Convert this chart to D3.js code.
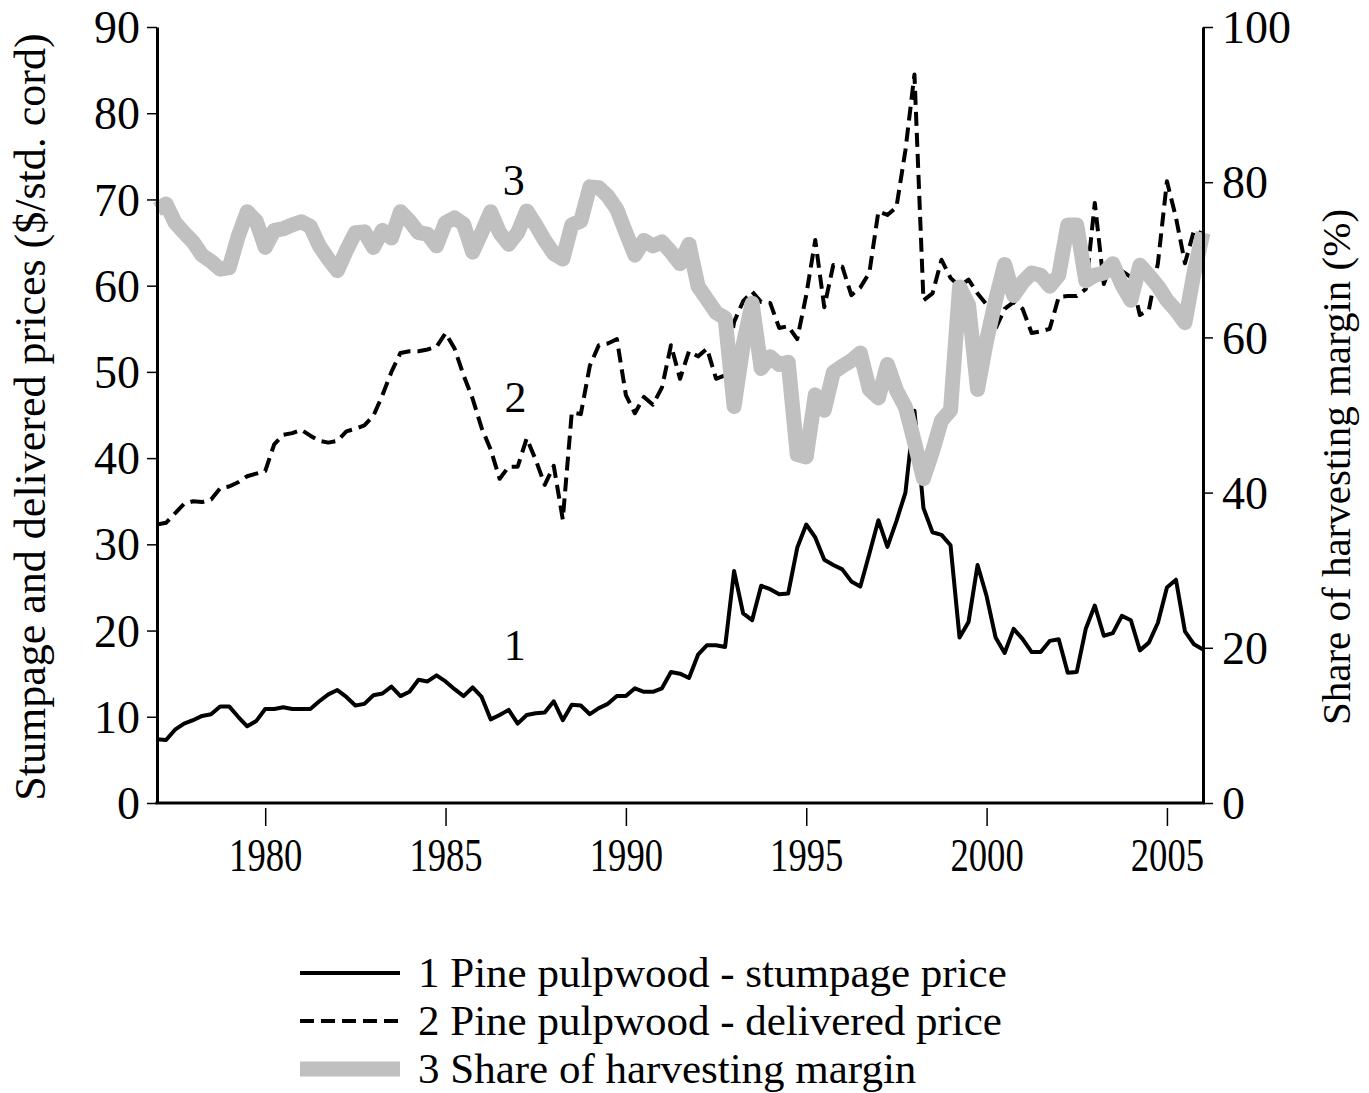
<!DOCTYPE html>
<html>
<head>
<meta charset="utf-8">
<script src="https://cdn.jsdelivr.net/npm/d3@7"></script>
<style>
    body { margin: 0; background: #fff; }
    svg text { font-family: "Liberation Serif", "Times New Roman", serif; fill: #000; }
</style>
</head>
<body>
<svg id="chart"></svg>
<script>

// quarterly series, 1977Q1 .. 2006Q1
const stumpage = [
    7.4, 7.3, 8.5, 9.2, 9.6, 10.1, 10.3, 11.2, 11.2, 10.0,
    8.9, 9.5, 10.9, 10.9, 11.1, 10.9, 10.9, 10.9, 11.8, 12.6,
    13.1, 12.3, 11.3, 11.5, 12.5, 12.7, 13.5, 12.4, 12.9, 14.3,
    14.1, 14.8, 14.1, 13.2, 12.4, 13.4, 12.3, 9.7, 10.2, 10.8,
    9.2, 10.2, 10.4, 10.5, 11.8, 9.6, 11.4, 11.3, 10.3, 11.0,
    11.5, 12.4, 12.4, 13.3, 12.9, 12.9, 13.3, 15.2, 15.0, 14.5,
    17.2, 18.3, 18.3, 18.1, 26.9, 22.0, 21.2, 25.2, 24.8, 24.2,
    24.3, 29.6, 32.3, 30.8, 28.2, 27.6, 27.1, 25.7, 25.1, 28.9,
    32.8, 29.7, 32.7, 36.0, 45.5, 34.2, 31.4, 31.1, 29.9, 19.2,
    21.0, 27.6, 24.0, 19.2, 17.4, 20.2, 19.0, 17.5, 17.5, 18.8,
    19.0, 15.1, 15.2, 20.2, 22.9, 19.4, 19.7, 21.7, 21.2, 17.7,
    18.6, 20.9, 25.0, 25.9, 19.9, 18.4, 17.8
];

const delivered = [
    32.3, 32.5, 33.6, 34.7, 35.0, 34.9, 35.2, 36.5, 36.7, 37.2,
    37.9, 38.2, 38.5, 41.6, 42.7, 42.9, 43.3, 42.6, 42.0, 41.8,
    42.0, 43.1, 43.4, 43.8, 44.9, 47.3, 50.0, 52.2, 52.4, 52.4,
    52.6, 52.9, 54.5, 52.7, 49.6, 46.9, 43.5, 41.0, 37.6, 39.0,
    39.0, 42.3, 39.8, 36.9, 39.1, 32.9, 45.3, 45.1, 50.7, 53.1,
    53.3, 53.8, 47.3, 45.2, 47.1, 46.2, 48.2, 53.1, 49.2, 52.4,
    51.8, 52.7, 49.2, 49.6, 55.8, 58.2, 59.3, 58.1, 58.0, 55.1,
    55.3, 53.8, 58.9, 65.3, 57.5, 62.4, 62.2, 58.9, 59.8, 61.5,
    68.6, 68.2, 69.1, 75.7, 84.5, 58.3, 59.1, 63.0, 60.9, 59.9,
    60.7, 59.1, 57.8, 55.0, 57.3, 58.1, 57.3, 54.5, 54.7, 55.0,
    58.7, 58.8, 58.8, 59.6, 69.6, 60.2, 63.0, 61.7, 61.0, 56.6,
    57.2, 62.6, 72.1, 67.9, 62.6, 66.4, 66.0
];

// share of harvesting margin (%), right axis
const marginShare = [
    76.5, 77.2, 74.8, 73.5, 72.3, 70.6, 69.8, 68.8, 69.0, 73.0,
    76.2, 75.0, 71.6, 73.8, 74.0, 74.5, 74.9, 74.3, 71.8, 70.1,
    68.6, 71.2, 73.5, 73.6, 71.6, 73.8, 72.8, 76.2, 75.0, 73.5,
    73.3, 71.8, 74.8, 75.4, 74.6, 71.0, 73.5, 76.2, 73.5, 72.0,
    73.5, 76.3, 74.5, 72.5, 70.8, 70.1, 74.5, 75.0, 79.4, 79.3,
    78.2, 76.5, 73.5, 70.6, 72.5, 71.8, 72.3, 71.0, 69.5, 72.0,
    66.6, 64.9, 63.2, 62.5, 51.1, 59.0, 64.4, 56.0, 57.5, 56.5,
    56.8, 44.9, 44.6, 52.6, 50.6, 55.5, 56.3, 57.0, 58.0, 53.3,
    52.2, 56.5, 53.2, 51.0, 46.5, 41.8, 45.3, 49.3, 50.6, 66.5,
    64.2, 53.3, 59.6, 64.8, 69.4, 65.4, 67.1, 68.3, 68.0, 66.6,
    68.0, 74.5, 74.5, 67.3, 68.0, 68.3, 69.5, 66.8, 64.8, 69.3,
    68.0, 66.6, 64.8, 63.5, 61.9, 68.3, 73.5
];

const quarters = stumpage.map((d, i) => 1977 + i / 4);

const xTicks = [1980, 1985, 1990, 1995, 2000, 2005];
const leftTicks = [0, 10, 20, 30, 40, 50, 60, 70, 80, 90];
const rightTicks = [0, 20, 40, 60, 80, 100];

const leftTitle = "Stumpage and delivered prices ($/std. cord)";
const rightTitle = "Share of harvesting margin (%)";
const legendLabels = [
    "1 Pine pulpwood - stumpage price",
    "2 Pine pulpwood - delivered price",
    "3 Share of harvesting margin"
];

// the small "1", "2", "3" tags inside the plot (year, left-axis value of baseline)
const seriesTags = [
    { tag: "1", t: 1986.92, v: 16.6 },
    { tag: "2", t: 1986.94, v: 45.3 },
    { tag: "3", t: 1986.89, v: 70.5 }
];


const W = 1369, H = 1093;
const margin = { top: 27, right: 166, bottom: 290, left: 157 };

const svg = d3.select("#chart")
    .attr("width", W)
    .attr("height", H);

// scales
const x = d3.scaleLinear().domain([1977, 2006]).range([margin.left, W - margin.right]);
const yL = d3.scaleLinear().domain([0, 90]).range([H - margin.bottom, margin.top]);
const yR = d3.scaleLinear().domain([0, 100]).range([H - margin.bottom, margin.top]);

const x0 = margin.left, x1 = W - margin.right;
const yBottom = H - margin.bottom, yTop = margin.top;


// lines, gray share drawn last (on top)
const lineL = (vals) => d3.line().x((d, i) => x(quarters[i])).y(d => yL(d))(vals);
const lineR = (vals) => d3.line().x((d, i) => x(quarters[i])).y(d => yR(d))(vals);

svg.append("path")
    .attr("d", lineL(stumpage))
    .attr("fill", "none")
    .attr("stroke", "#000")
    .attr("stroke-width", 4)
    .attr("stroke-linejoin", "round");

svg.append("path")
    .attr("d", lineL(delivered))
    .attr("fill", "none")
    .attr("stroke", "#000")
    .attr("stroke-width", 4)
    .attr("stroke-dasharray", "14,7")
    .attr("stroke-linejoin", "round");

svg.append("path")
    .attr("d", lineR(marginShare))
    .attr("fill", "none")
    .attr("stroke", "#c0c0c0")
    .attr("stroke-width", 15)
    .attr("stroke-linejoin", "round");


// axes
const leftAxis = d3.axisLeft(yL).tickValues(leftTicks).tickSize(10).tickSizeOuter(0).tickPadding(7);
const gL = svg.append("g")
    .attr("transform", `translate(${x0},0)`)
    .call(leftAxis);

const rightAxis = d3.axisRight(yR).tickValues(rightTicks).tickSize(10).tickSizeOuter(0).tickPadding(9);
const gR = svg.append("g")
    .attr("transform", `translate(${x1},0)`)
    .call(rightAxis);

const bottomAxis = d3.axisBottom(x).tickValues(xTicks).tickFormat(d3.format("d"))
    .tickSize(18).tickSizeOuter(0).tickPadding(12);
const gB = svg.append("g")
    .attr("transform", `translate(0,${yBottom + 5})`)
    .call(bottomAxis);
gB.select(".domain").remove();

[gL, gR, gB].forEach(g => {
    g.selectAll(".tick line").attr("stroke", "#000").attr("stroke-width", 1.5);
    g.selectAll(".domain").attr("stroke", "#000").attr("stroke-width", 3);
    g.selectAll(".tick text")
        .style("font-family", '"Liberation Serif", "Times New Roman", serif')
        .attr("fill", "#000");
});
gL.selectAll(".tick text").style("font-size", "46px").attr("dy", "0.34em");
gR.selectAll(".tick text").style("font-size", "46px").attr("dy", "0.34em");
// year labels are tall and narrow in the original
gB.selectAll(".tick text")
    .style("font-size", "47px")
    .attr("transform", "scale(0.78,1)");

// bottom frame line
svg.append("line")
    .attr("x1", x0 - 1.5).attr("x2", x1 + 1.5)
    .attr("y1", yBottom).attr("y2", yBottom)
    .attr("stroke", "#000")
    .attr("stroke-width", 3);


// axis titles
svg.append("text")
    .attr("transform", `translate(45,${(yTop + yBottom) / 2 + 2}) rotate(-90)`)
    .attr("text-anchor", "middle")
    .style("font-size", "44px")
    .text(leftTitle);

svg.append("text")
    .attr("transform", `translate(1350,${(yTop + yBottom) / 2 + 52}) rotate(-90)`)
    .attr("text-anchor", "middle")
    .style("font-size", "41px")
    .text(rightTitle);


// series tags
svg.selectAll(".tag")
    .data(seriesTags)
    .enter()
    .append("text")
        .attr("class", "tag")
        .attr("x", d => x(d.t))
        .attr("y", d => yL(d.v))
        .attr("text-anchor", "middle")
        .style("font-size", "44px")
        .text(d => d.tag);


// legend
const legendStyles = [
    { color: "#000", width: 4, dash: null },
    { color: "#000", width: 4, dash: "14,7" },
    { color: "#c0c0c0", width: 15, dash: null }
];
const legend = svg.append("g").attr("transform", "translate(300,973)");
legendLabels.forEach((label, i) => {
    const row = legend.append("g").attr("transform", `translate(0,${i * 48})`);
    row.append("line")
        .attr("x1", 0).attr("x2", 100)
        .attr("y1", 0).attr("y2", 0)
        .attr("stroke", legendStyles[i].color)
        .attr("stroke-width", legendStyles[i].width)
        .attr("stroke-dasharray", legendStyles[i].dash);
    row.append("text")
        .attr("x", 118)
        .attr("y", 14)
        .style("font-size", "43px")
        .text(label);
});

</script>
</body>
</html>
